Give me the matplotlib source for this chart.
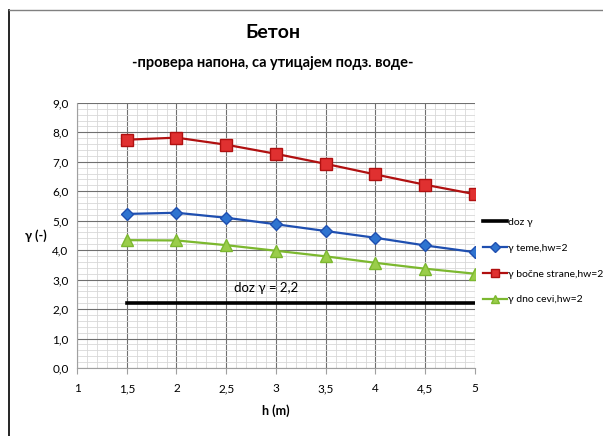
import numpy as np
import matplotlib
matplotlib.use("Agg")
import matplotlib.pyplot as plt
from matplotlib.ticker import MultipleLocator, FuncFormatter
from matplotlib.lines import Line2D

plt.rcParams['font.family'] = ['Lato', 'DejaVu Sans']

h = [1.5, 2.0, 2.5, 3.0, 3.5, 4.0, 4.5, 5.0]
doz = [2.2] * len(h)
teme = [5.23, 5.27, 5.10, 4.88, 4.65, 4.42, 4.16, 3.93]
bocne = [7.75, 7.82, 7.58, 7.27, 6.93, 6.57, 6.22, 5.90]
dno = [4.34, 4.33, 4.17, 3.98, 3.79, 3.57, 3.37, 3.20]

labels = ['doz γ', 'γ teme,hw=2', 'γ bočne strane,hw=2', 'γ dno cevi,hw=2']

fig = plt.figure(figsize=(6.03, 4.36), dpi=100)
ax = fig.add_axes([0.1277, 0.156, 0.66, 0.608])

ax.plot(h, doz, color='black', lw=2.6, label=labels[0])
ax.plot(h, teme, color='#1F4FB0', lw=1.6, marker='D', ms=6.5,
        mfc='#2F74D0', mec='#1F4FB0', label=labels[1])
ax.plot(h, bocne, color='#B01010', lw=1.6, marker='s', ms=8.5,
        mfc='#E03030', mec='#B01010', label=labels[2])
ax.plot(h, dno, color='#7CB82F', lw=1.6, marker='^', ms=8,
        mfc='#9ACD4A', mec='#7CB82F', label=labels[3])

ax.text(2.9, 2.5, 'doz γ = 2,2', ha='center', va='bottom', fontsize=9.5)

ax.set_xlim(1, 5)
ax.set_ylim(0, 9)
ax.xaxis.set_major_locator(MultipleLocator(0.5))
ax.xaxis.set_minor_locator(MultipleLocator(0.1))
ax.yaxis.set_major_locator(MultipleLocator(1.0))
ax.yaxis.set_minor_locator(MultipleLocator(0.2))

ax.xaxis.set_major_formatter(FuncFormatter(
    lambda v, p: ('%g' % v).replace('.', ',')))
ax.yaxis.set_major_formatter(FuncFormatter(
    lambda v, p: ('%.1f' % v).replace('.', ',')))

ax.grid(which='major', color='#707070', lw=0.8)
ax.grid(which='minor', color='#D8D8D8', lw=0.6)
ax.set_axisbelow(True)
for s in ['top', 'right']:
    ax.spines[s].set_visible(False)
ax.spines['left'].set_color('#A0A0A0')
ax.spines['bottom'].set_color('#A0A0A0')
ax.tick_params(which='both', length=0, labelsize=8.5, pad=6)
ax.tick_params(axis='x', which='major', length=4, color='#A0A0A0', pad=7)

ax.set_xlabel('h (m)', fontsize=9, fontweight='bold', labelpad=7)
ax.set_ylabel('γ (-)', fontsize=9, fontweight='bold', rotation=0, labelpad=12, va='center')

fig.text(0.452, 0.925, 'Бетон', ha='center', va='center', fontsize=14, fontweight='bold')
fig.text(0.452, 0.855, '-провера напона, са утицајем подз. воде-', ha='center',
         va='center', fontsize=10.5, fontweight='bold')

ax.legend(loc='upper left', bbox_to_anchor=(1.004, 0.59), frameon=False,
          fontsize=7.5, handlelength=2.3, handletextpad=0.15,
          labelspacing=1.58, borderaxespad=0.2, markerscale=0.75)

# outer chart border
fig.add_artist(Line2D([9 / 603, 9 / 603], [0, 1 - 10 / 436], transform=fig.transFigure,
                      color='black', lw=1.2))
fig.add_artist(Line2D([9 / 603, 1], [1 - 10 / 436, 1 - 10 / 436], transform=fig.transFigure,
                      color='#808080', lw=1.0))

fig.savefig('out.png', dpi=100)
